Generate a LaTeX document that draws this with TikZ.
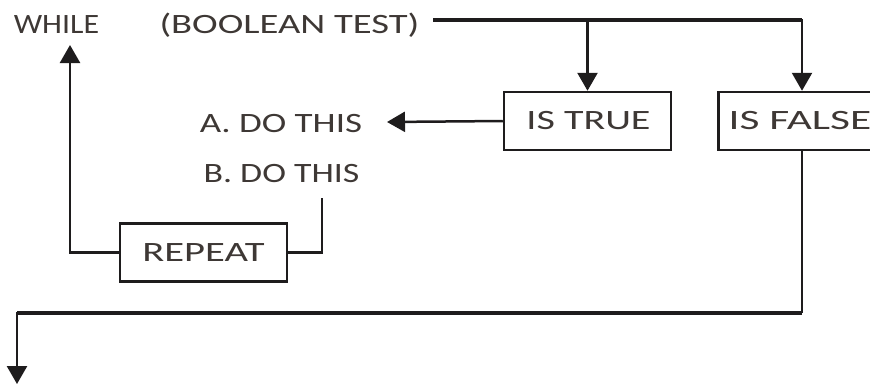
\documentclass[tikz,border=0pt]{standalone}
\usepackage{fontspec}
\setmainfont{Carlito}
\usetikzlibrary{arrows.meta}
\definecolor{ink}{HTML}{3E3835}
\definecolor{linec}{HTML}{1E1C1D}
\newcommand{\sxt}[2]{\scalebox{#1}[1]{#2}}
\tikzset{
  lbl/.style={text=ink, font=\fontsize{28}{30}\selectfont, inner sep=0pt},
  boxn/.style={draw=linec, line width=2.5pt, minimum width=167pt, minimum height=58pt, inner sep=0pt, text=ink, font=\fontsize{28}{30}\selectfont},
  conn/.style={draw=linec, line width=2.5pt},
  thick conn/.style={draw=linec, line width=3.5pt},
  arr/.style={-{Triangle[width=20pt,length=18pt]}}
}
\begin{document}
\begin{tikzpicture}[x=1pt,y=-1pt]
\useasboundingbox (0,0) rectangle (870,384);
\clip (0,0) rectangle (870,384);
% texts
\node[lbl] (while) at (56.5,25) {\sxt{1.14}{WHILE}};
\node[lbl] (test) at (289.5,25) {\sxt{1.38}{(BOOLEAN TEST)}};
\node[lbl] (a) at (281,124) {\sxt{1.32}{A. DO THIS}};
\node[lbl] (b) at (281.5,174) {\sxt{1.28}{B. DO THIS}};
% boxes
\node[boxn] (true) at (587.5,121) {\hspace*{2pt}\sxt{1.43}{IS TRUE}};
\node[boxn] (false) at (802,121) {\hspace*{-4pt}\sxt{1.55}{IS FALSE}};
\node[boxn] (repeat) at (203.5,252.5) {\sxt{1.45}{REPEAT}};
% coordinates
\coordinate (tstart) at (433,20);
\coordinate (tbranch) at (587.5,20);
\coordinate (aend) at (387,122);
\coordinate (bstart) at (322,198);
\coordinate (wend) at (70,45);
\coordinate (fturn) at (802,313);
\coordinate (exit) at (17,384);
% connectors
\draw[thick conn] (tstart) -- (802,20);
\draw[conn,arr] (802,19) -- (false.north);
\draw[conn,arr] (tbranch) -- (true.north);
\draw[conn,arr] (true.west) -- (aend);
\draw[conn] (bstart) |- (repeat.east);
\draw[conn,arr] (repeat.west) -| (wend);
\draw[conn] (false.south) -- (fturn);
\draw[thick conn] (fturn) -- (17,313);
\draw[conn,arr] (17,311.5) -- (exit);
\end{tikzpicture}
\end{document}
